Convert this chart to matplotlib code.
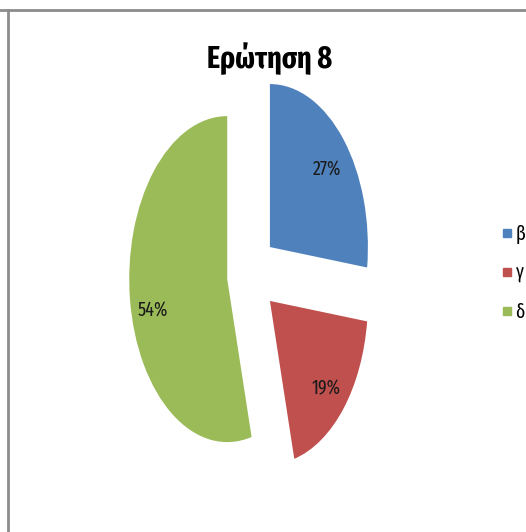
import matplotlib
matplotlib.use("Agg")
import matplotlib.pyplot as plt
from matplotlib.lines import Line2D

# δεδομένα
labels = ["β", "γ", "δ"]
values = [27, 19, 54]
colors = ["#4F81BD", "#C0504D", "#9BBB59"]
title = "Ερώτηση 8"

# στενή γραμματοσειρά (η εικόνα είναι συμπιεσμένη οριζόντια)
plt.rcParams["font.family"] = ["Fira Sans Extra Condensed", "DejaVu Sans"]

fig = plt.figure(figsize=(5.26, 5.32), dpi=100)

# πίτα με aspect auto ώστε να γίνει έλλειψη όπως στο πρωτότυπο
ax = fig.add_axes([0.236, 0.1173, 0.4844, 0.7353])
wedges, texts, autotexts = ax.pie(values, colors=colors, startangle=90, counterclock=False,
                                  explode=[0.25] * len(values), autopct="%1.0f%%",
                                  pctdistance=0.77, textprops={"fontsize": 14, "color": "#1a1a1a"})
ax.set_aspect("auto")
ax.set_xlim(-1.3, 1.3)
ax.set_ylim(-1.2, 1.2)
# οι ετικέτες είναι λίγο πιο χαμηλά στο πρωτότυπο (του 54% ακόμη πιο χαμηλά)
for i, t in enumerate(autotexts):
    x, y = t.get_position()
    t.set_position((x, y - (0.09 if i == 2 else 0.03)))

fig.text(0.513, 0.872, title, ha="center", va="baseline", fontsize=22, fontweight="bold")

handles = [Line2D([], [], marker="s", linestyle="none", markersize=6, color=c) for c in colors]
fig.legend(handles, labels, loc="center left", bbox_to_anchor=(500 / 526, 0.487),
           frameon=False, fontsize=14, handlelength=0.7, handletextpad=0.1,
           labelspacing=1.0, borderpad=0, borderaxespad=0)

# περίγραμμα
fig.add_artist(Line2D([0, 1], [1 - 10 / 532, 1 - 10 / 532], transform=fig.transFigure, color="#8C8C8C", lw=2))
fig.add_artist(Line2D([8 / 526, 8 / 526], [0, 1 - 10 / 532], transform=fig.transFigure, color="#8C8C8C", lw=2))

fig.savefig("out.png", dpi=100)
